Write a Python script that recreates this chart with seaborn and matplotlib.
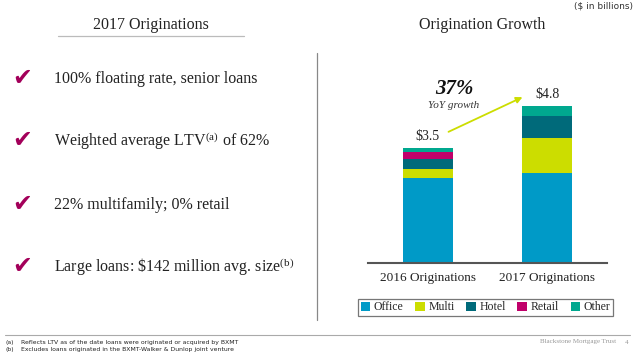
import matplotlib
matplotlib.use("Agg")
import matplotlib.pyplot as plt
from matplotlib.patches import Patch, FancyArrowPatch
from matplotlib.lines import Line2D
import seaborn as sns
import pandas as pd
import numpy as np

sns.set_theme(style="white")
plt.rcParams['font.family'] = ['Liberation Serif', 'DejaVu Serif']
plt.rcParams['mathtext.fontset'] = 'custom'
plt.rcParams['mathtext.rm'] = 'Liberation Serif'
plt.rcParams['mathtext.it'] = 'Liberation Serif:italic'
plt.rcParams['mathtext.bf'] = 'Liberation Serif:bold'

categories = ["2016 Originations", "2017 Originations"]
segments = ["Office", "Multi", "Hotel", "Retail", "Other"]
office = [2.58, 2.76]
multi = [0.30, 1.06]
hotel = [0.30, 0.68]
retail = [0.21, 0.00]
other = [0.11, 0.30]
totals = [3.5, 4.8]
total_labels = ["$3.5", "$4.8"]
colors = ["#009AC7", "#CCDD00", "#006A7A", "#C0006A", "#00A88F"]
bullets = [
    "100% floating rate, senior loans",
    "Weighted average LTV$^{\\rm (a)}$ of 62%",
    "22% multifamily; 0% retail",
    "Large loans: \\$142 million avg. size$^{\\rm (b)}$",
]

W, H = 640, 363
fig = plt.figure(figsize=(6.4, 3.63), dpi=100)
fig.patch.set_facecolor("white")

def fx(x):
    return x / W

def fy(y):
    return 1 - y / H

# --- Left panel ---
fig.text(fx(151), fy(25), "2017 Originations", ha="center", va="center", fontsize=11.5, color="#222222")
fig.add_artist(Line2D([fx(58), fx(244)], [fy(36), fy(36)], color="#bbbbbb", lw=0.9))
fig.add_artist(Line2D([fx(317), fx(317)], [fy(53), fy(320)], color="#888888", lw=0.9))

check_y = [78, 140, 204, 266]
for yy, txt in zip(check_y, bullets):
    fig.text(fx(22), fy(yy), "\u2714", ha="center", va="center", fontsize=17,
             color="#A3005A", family=["DejaVu Sans"])
    fig.text(fx(54), fy(yy + 1), txt, ha="left", va="center", fontsize=11.5, color="#222222")

# --- Right panel ---
fig.text(fx(482), fy(25), "Origination Growth", ha="center", va="center", fontsize=11.5, color="#222222")
fig.text(fx(633), fy(6), "($ in billions)", ha="right", va="center", fontsize=6.5,
         color="#333333", family=["DejaVu Sans"])

ax = fig.add_axes([fx(368), fy(80) - (182.6 / H), 239 / W, 182.6 / H])
df = pd.DataFrame({"cat": categories, "Office": office, "Multi": multi,
                   "Hotel": hotel, "Retail": retail, "Other": other})
bottom = np.zeros(len(categories))
for seg, col in zip(segments, colors):
    sns.barplot(data=df, x="cat", y=seg, color=col, ax=ax, width=0.42,
                bottom=bottom.copy(), saturation=1, linewidth=0)
    bottom = bottom + df[seg].values

ax.set_xlim(-0.5, 1.5)
ax.set_ylim(0, 5.6)
ax.set_xlabel("")
ax.set_ylabel("")
ax.set_yticks([])
for s in ["top", "right", "left"]:
    ax.spines[s].set_visible(False)
ax.spines["bottom"].set_color("#555555")
ax.spines["bottom"].set_linewidth(1.5)
ax.tick_params(axis="x", length=0, pad=7)
for lab in ax.get_xticklabels():
    lab.set_fontsize(9.5)
    lab.set_color("#222222")
ax.patch.set_alpha(0)

for i, (t, lab) in enumerate(zip(totals, total_labels)):
    ax.text(i, t + 0.17, lab, ha="center", va="bottom", fontsize=10, color="#222222")

# growth arrow and annotation
fig.add_artist(FancyArrowPatch(
    (fx(446), fy(133)), (fx(525), fy(96)), transform=fig.transFigure,
    arrowstyle="-|>", mutation_scale=9, color="#CCDD00", lw=1.3))
fig.text(fx(454), fy(89), "37%", ha="center", va="center", fontsize=15,
         fontweight="bold", style="italic", color="#111111")
fig.text(fx(454), fy(106), "YoY growth", ha="center", va="center", fontsize=8,
         style="italic", color="#333333")

handles = [Patch(facecolor=c, edgecolor="none", label=s) for s, c in zip(segments, colors)]
leg = fig.legend(handles=handles, loc="center", bbox_to_anchor=(fx(485.5), fy(307.5)),
                 ncol=5, frameon=True, fontsize=8.5, handlelength=0.8, handleheight=0.8,
                 handletextpad=0.3, columnspacing=1.0, borderpad=0.25, fancybox=False)
leg.get_frame().set_edgecolor("#555555")
leg.get_frame().set_linewidth(0.9)

# --- Footer ---
fig.add_artist(Line2D([fx(5), fx(630)], [fy(335), fy(335)], color="#aaaaaa", lw=0.8))
foot = dict(ha="left", va="center", fontsize=4.4, family=["DejaVu Sans"], color="#222222")
fig.text(fx(6), fy(342.5), "(a)", **foot)
fig.text(fx(6), fy(349), "(b)", **foot)
fig.text(fx(21), fy(342.5), "Reflects LTV as of the date loans were originated or acquired by BXMT", **foot)
fig.text(fx(21), fy(349), "Excludes loans originated in the BXMT-Walker & Dunlop joint venture", **foot)
fig.text(fx(616), fy(342), "Blackstone Mortgage Trust", ha="right", va="center",
         fontsize=5.0, color="#999999")
fig.text(fx(628), fy(342), "4", ha="right", va="center", fontsize=5.0, color="#999999")

fig.savefig("out.png", dpi=100, facecolor="white")
